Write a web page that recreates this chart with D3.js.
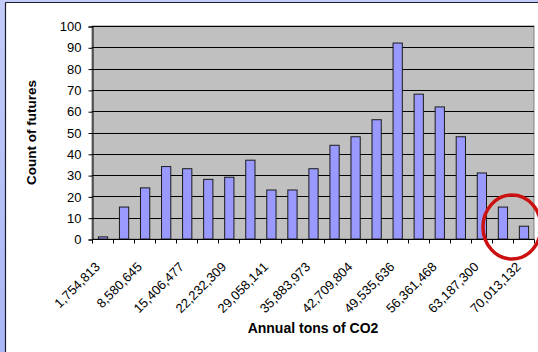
<!DOCTYPE html>
<html>
<head>
<meta charset="utf-8">
<script src="https://cdn.jsdelivr.net/npm/d3@7"></script>
<style>
  html, body { margin: 0; padding: 0; background: #fff; }
  svg { display: block; font-family: "Liberation Sans", Arial, sans-serif; }
</style>
</head>
<body>
<svg id="chart" width="538" height="352"></svg>
<script>
// Histogram bins (lower edge of each bin, tons CO2) and counts
const binStarts = [1754813, 5167729, 8580645, 11993561, 15406477, 18819393, 22232309,
  25645225, 29058141, 32471057, 35883973, 39296889, 42709804, 46122720, 49535636,
  52948552, 56361468, 59774384, 63187300, 66600216, 70013132];
const counts = [1, 15, 24, 34, 33, 28, 29, 37, 23, 23, 33, 44, 48, 56, 92, 68, 62, 48, 31, 15, 6];
const yTicks = [0, 10, 20, 30, 40, 50, 60, 70, 80, 90, 100];
const xTitle = "Annual tons of CO2";
const yTitle = "Count of futures";

const svg = d3.select("#chart");
const W = 538, H = 352;
const FONT = "Liberation Sans, Arial, sans-serif";

// Frame: bluish strip on the left/top, white panel with dark edge
const defs = svg.append("defs");
const grad = defs.append("linearGradient").attr("id", "edge").attr("x1", 0).attr("y1", 0).attr("x2", 0).attr("y2", 1);
grad.append("stop").attr("offset", "0%").attr("stop-color", "#c4ccf8");
grad.append("stop").attr("offset", "100%").attr("stop-color", "#a9b7f6");
svg.append("rect").attr("x", 0).attr("y", 0).attr("width", W).attr("height", H).attr("fill", "url(#edge)");
svg.append("rect").attr("x", 6).attr("y", 3).attr("width", W - 6).attr("height", H - 3).attr("fill", "#fff");
svg.append("line").attr("x1", 5.5).attr("x2", W).attr("y1", 2.5).attr("y2", 2.5).attr("stroke", "#1c1c2c").attr("stroke-width", 1.2);
svg.append("line").attr("x1", 5.5).attr("x2", 5.5).attr("y1", 2.5).attr("y2", H).attr("stroke", "#1c1c2c").attr("stroke-width", 1.2);

const plot = { left: 92, right: 534, top: 26, bottom: 239 };

const x = d3.scaleBand().domain(binStarts).range([plot.left, plot.right]).paddingInner(0.56).paddingOuter(0.28);
const xb = d3.scaleBand().domain(binStarts).range([plot.left, plot.right]);
const y = d3.scaleLinear().domain([0, 100]).range([plot.bottom, plot.top]);

// Plot background
svg.append("rect").attr("x", plot.left).attr("y", plot.top)
  .attr("width", plot.right - plot.left).attr("height", plot.bottom - plot.top)
  .attr("fill", "#c0c0c0").attr("stroke", "#808080").attr("stroke-width", 1);

// Horizontal gridlines
svg.append("g").selectAll("line").data(yTicks.filter(d => d > 0)).join("line")
  .attr("x1", plot.left).attr("x2", plot.right)
  .attr("y1", d => Math.round(y(d)) + 0.5).attr("y2", d => Math.round(y(d)) + 0.5)
  .attr("stroke", "#000").attr("stroke-width", 1);

// Bars
svg.append("g").selectAll("rect").data(binStarts).join("rect")
  .attr("x", (d) => x(d) + 0.5)
  .attr("y", (d, i) => y(counts[i]))
  .attr("width", x.bandwidth())
  .attr("height", (d, i) => y(0) - y(counts[i]))
  .attr("fill", "#9999ff").attr("stroke", "#1a1a1a").attr("stroke-width", 1);

// Y axis
const yAxis = d3.axisLeft(y).tickValues(yTicks).tickSize(4).tickPadding(7);
const gy = svg.append("g").attr("transform", `translate(${plot.left + 0.5},0.5)`).call(yAxis)
  .attr("font-family", FONT).attr("font-size", 13);
gy.select(".domain").attr("stroke", "#000");
gy.selectAll(".tick line").attr("stroke", "#000");
gy.selectAll(".tick text").attr("fill", "#000");

// X axis: ticks at bin boundaries, labels on every other bin
const gx = svg.append("g").attr("transform", `translate(0,${plot.bottom + 0.5})`);
gx.append("line").attr("x1", plot.left).attr("x2", plot.right + 0.5).attr("y1", 0).attr("y2", 0).attr("stroke", "#000");
const bounds = binStarts.map(d => xb(d)).concat([plot.right]);
gx.selectAll("line.tk").data(bounds).join("line").attr("class", "tk")
  .attr("x1", d => Math.round(d) + 0.5).attr("x2", d => Math.round(d) + 0.5)
  .attr("y1", 0).attr("y2", 4).attr("stroke", "#000");
const fmt = d3.format(",");
gx.selectAll("text").data(binStarts.filter((d, i) => i % 2 === 0)).join("text")
  .attr("transform", d => `translate(${xb(d) + xb.bandwidth() / 2 - 5},${25}) rotate(-45)`)
  .attr("text-anchor", "end").attr("dy", "0.35em")
  .attr("font-size", 13).attr("fill", "#000")
  .text(d => fmt(d));

// Axis titles
svg.append("text").attr("x", (plot.left + plot.right) / 2).attr("y", 333)
  .attr("text-anchor", "middle").attr("font-size", 14).attr("font-weight", "bold").text(xTitle);
svg.append("text").attr("transform", `translate(36,${(plot.top + plot.bottom) / 2}) rotate(-90)`)
  .attr("text-anchor", "middle").attr("font-size", 13.5).attr("font-weight", "bold").text(yTitle);

// Red ring around the two highest bins
const lastTwo = binStarts.slice(-2);
const cx = (xb(lastTwo[0]) + xb(lastTwo[1]) + xb.bandwidth()) / 2;
svg.append("ellipse").attr("cx", cx - 1).attr("cy", 227).attr("rx", 29).attr("ry", 32)
  .attr("fill", "none").attr("stroke", "#cc1111").attr("stroke-width", 3.5);
</script>
</body>
</html>
